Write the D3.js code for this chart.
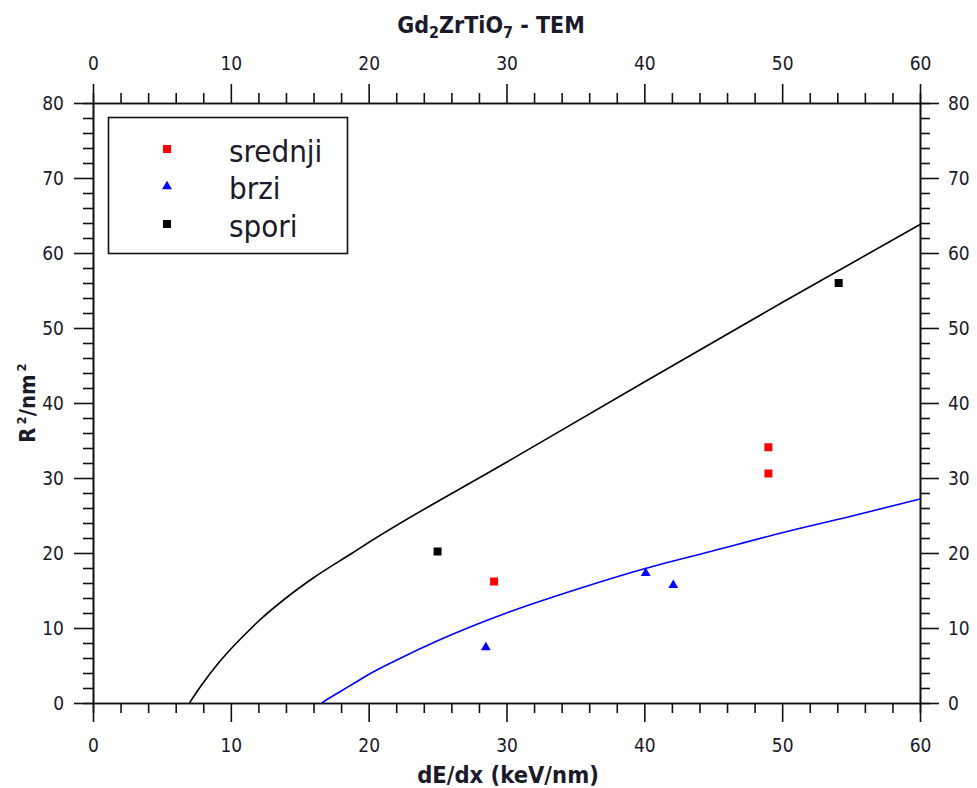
<!DOCTYPE html>
<html>
<head>
<meta charset="utf-8">
<script src="https://cdn.jsdelivr.net/npm/d3@7"></script>
<style>
  body { margin: 0; background: #fff; }
  text { font-family: "DejaVu Sans Condensed", "DejaVu Sans", sans-serif; font-stretch: condensed; }
  .axis path, .axis line { stroke: #111; stroke-width: 1.6px; }
  .axis text { font-size: 19px; fill: #1a1a2a; font-family: "DejaVu Sans Condensed", "DejaVu Sans", sans-serif; }
</style>
</head>
<body>
<div id="chart"></div>
<script>
/* measured points */
var srednjiX = [29.1, 49.0, 49.0]
var srednjiY = [16.2, 34.1, 30.6]
var brziX = [28.5, 40.1, 42.1]
var brziY = [7.4, 17.3, 15.7]
var sporiX = [25.0, 54.1]
var sporiY = [20.2, 56.0]

/* fitted curves */
var blackCurveX = [7.0, 7.5, 8, 9, 10, 11, 12, 14, 16, 18.9, 20, 30, 40, 50, 60]
var blackCurveY = [0, 1.4, 2.7, 5.1, 7.2, 9.1, 10.9, 14.0, 16.7, 20.1, 21.4, 32.1, 42.8, 53.4, 63.8]
var blueCurveX = [16.6, 17, 18, 19, 20, 22, 25, 28, 30, 35, 40, 44.8, 50, 55, 60]
var blueCurveY = [0, 0.5, 1.6, 2.7, 3.8, 5.7, 8.3, 10.6, 12.0, 15.1, 17.9, 20.2, 22.7, 24.9, 27.2]

var xMajor = [0, 10, 20, 30, 40, 50, 60]
var yMajor = [0, 10, 20, 30, 40, 50, 60, 70, 80]

var seriesNames = ["srednji", "brzi", "spori"]
var seriesColors = { "srednji": "#ff0000", "brzi": "#0000ff", "spori": "#000000" }

var layout = {
  width: 977,
  height: 788,
  left: 93,
  right: 920,
  top: 103,
  bottom: 703,
  major: 19,
  minor: 10
}

var x = d3.scaleLinear().domain([0, 60]).range([layout.left, layout.right])
var y = d3.scaleLinear().domain([0, 80]).range([layout.bottom, layout.top])

var xMinor = d3.range(0, 61, 2).filter(function(d) { return d % 10 !== 0 })
var yMinor = d3.range(0, 81, 2).filter(function(d) { return d % 10 !== 0 })

var svg = d3.select("#chart").append("svg")
  .attr("width", layout.width)
  .attr("height", layout.height)

/* axes: majors with labels, minors without */
function drawAxis(makeAxis, transform, majors, minors, pad) {
  svg.append("g").attr("class", "axis").attr("transform", transform)
    .call(makeAxis().tickValues(minors).tickSize(layout.minor).tickFormat(""))
  svg.append("g").attr("class", "axis").attr("transform", transform)
    .call(makeAxis().tickValues(majors).tickSize(layout.major).tickSizeOuter(0).tickPadding(pad).tickFormat(d3.format("d")))
}

drawAxis(function() { return d3.axisBottom(x) }, "translate(0," + layout.bottom + ")", xMajor, xMinor, 17)
drawAxis(function() { return d3.axisTop(x) }, "translate(0," + layout.top + ")", xMajor, xMinor, 14)
drawAxis(function() { return d3.axisLeft(y) }, "translate(" + layout.left + ",0)", yMajor, yMinor, 10)
drawAxis(function() { return d3.axisRight(y) }, "translate(" + layout.right + ",0)", yMajor, yMinor, 9)

/* curves */
var line = d3.line()
  .x(function(d) { return x(d[0]) })
  .y(function(d) { return y(d[1]) })
  .curve(d3.curveMonotoneX)

svg.append("path")
  .datum(d3.zip(blackCurveX, blackCurveY))
  .attr("d", line)
  .style("fill", "none")
  .style("stroke", "#000")
  .style("stroke-width", 1.6)

svg.append("path")
  .datum(d3.zip(blueCurveX, blueCurveY))
  .attr("d", line)
  .style("fill", "none")
  .style("stroke", "#0000ff")
  .style("stroke-width", 1.6)

/* markers */
var square = d3.symbol().type(d3.symbolSquare).size(64)
var triangle = d3.symbol().type(d3.symbolTriangle).size(42)

svg.selectAll(".srednji").data(d3.zip(srednjiX, srednjiY)).enter()
  .append("path").attr("class", "srednji")
  .attr("d", square)
  .attr("transform", function(d) { return "translate(" + x(d[0]) + "," + y(d[1]) + ")" })
  .style("fill", seriesColors.srednji)

svg.selectAll(".spori").data(d3.zip(sporiX, sporiY)).enter()
  .append("path").attr("class", "spori")
  .attr("d", square)
  .attr("transform", function(d) { return "translate(" + x(d[0]) + "," + y(d[1]) + ")" })
  .style("fill", seriesColors.spori)

svg.selectAll(".brzi").data(d3.zip(brziX, brziY)).enter()
  .append("path").attr("class", "brzi")
  .attr("d", triangle)
  .attr("transform", function(d) { return "translate(" + x(d[0]) + "," + y(d[1]) + ")" })
  .style("fill", seriesColors.brzi)

/* legend */
var legend = svg.append("g")
legend.append("rect")
  .attr("x", 108.5).attr("y", 117.5)
  .attr("width", 239).attr("height", 136)
  .style("fill", "#fff")
  .style("stroke", "#111")
  .style("stroke-width", 1.6)

seriesNames.forEach(function(name, i) {
  var rowY = 149 + i * 37.5
  legend.append("path")
    .attr("d", name === "brzi" ? triangle : square)
    .attr("transform", "translate(167," + rowY + ")")
    .style("fill", seriesColors[name])
  legend.append("text")
    .text(name)
    .attr("x", 229)
    .attr("y", rowY + 12.5)
    .style("font-size", "31px")
    .style("fill", "#1a1a2a")
})

/* titles */
var title = svg.append("text")
  .attr("x", 491).attr("y", 33)
  .attr("text-anchor", "middle")
  .style("font-size", "23px")
  .style("font-weight", "bold")
  .style("fill", "#1a1a2a")
title.append("tspan").text("Gd")
title.append("tspan").text("2").attr("dy", 5).style("font-size", "16px")
title.append("tspan").text("ZrTiO").attr("dy", -5)
title.append("tspan").text("7").attr("dy", 5).style("font-size", "16px")
title.append("tspan").text(" - TEM").attr("dy", -5)

svg.append("text")
  .text("dE/dx (keV/nm)")
  .attr("x", 508).attr("y", 783)
  .attr("text-anchor", "middle")
  .style("font-size", "23.5px")
  .style("font-weight", "bold")
  .style("fill", "#1a1a2a")

var yLabel = svg.append("text")
  .attr("transform", "translate(35,403) rotate(-90)")
  .attr("text-anchor", "middle")
  .style("font-size", "22px")
  .style("font-weight", "bold")
  .style("fill", "#1a1a2a")
yLabel.append("tspan").text("R")
yLabel.append("tspan").text("2").attr("dx", 3).attr("dy", -9).style("font-size", "13px")
yLabel.append("tspan").text("/nm").attr("dy", 9)
yLabel.append("tspan").text("2").attr("dx", 3).attr("dy", -9).style("font-size", "13px")
</script>
</body>
</html>
